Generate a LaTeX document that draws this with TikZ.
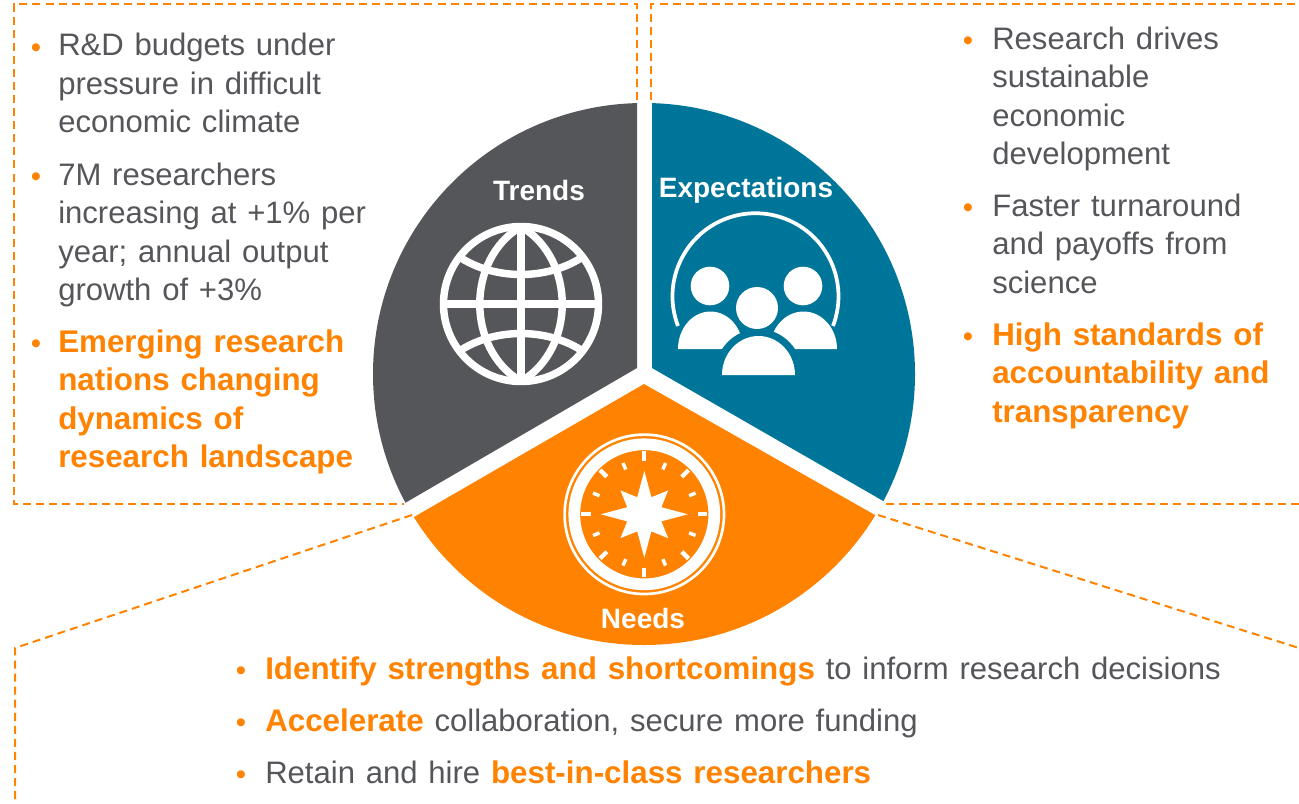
\documentclass[tikz,border=0pt]{standalone}
\usepackage{fontspec}
\setmainfont[WordSpace=1.25]{Liberation Sans}
\definecolor{og}{HTML}{FF8300}
\definecolor{gy}{HTML}{54565A}
\definecolor{tl}{HTML}{00759A}
\newcommand{\hi}[1]{\textcolor{og}{\fontsize{23.5}{28.9}\selectfont\textbf{#1}}}
\tikzset{
 x=0.75pt,y=-0.75pt,
 body/.style={anchor=north west,inner sep=0pt,align=left,text=gy,font=\fontsize{23.3}{28.9}\selectfont},
 bull/.style={anchor=center,inner sep=0pt,text=og,font=\fontsize{22}{28}\selectfont},
 head/.style={anchor=base,inner sep=0pt,text=white,font=\bfseries\fontsize{21}{24}\selectfont},
 dashline/.style={draw=og,line width=1.5pt,dash pattern=on 6pt off 3.8pt},
 ic/.style={draw=white,line width=5.6pt,line join=round}
}
\begin{document}
\begin{tikzpicture}
\useasboundingbox (0,0) rectangle (1299,803);
% wedges
\begin{scope}
\clip (644,374) circle [radius=271];
\fill[gy] (637,50) -- (637,368) -- (405,503) -- (250,593) -- (250,50) -- cycle;
\fill[tl] (652,50) -- (652,368) -- (885,502) -- (1040,591) -- (1040,50) -- cycle;
\fill[og] (644,384) -- (414,517) -- (300,583) -- (300,700) -- (990,700) -- (990,580) -- (875,515) -- cycle;
\end{scope}
% dashed frames
\coordinate (L1) at (637,100); \coordinate (L2) at (637,4); \coordinate (L3) at (14,4); \coordinate (L4) at (14,504); \coordinate (L5) at (404,504);
\draw[dashline] (L1) -- (L2) -- (L3) -- (L4) -- (L5);
\coordinate (R1) at (651,100); \coordinate (R2) at (651,4); \coordinate (R3) at (1299,4);
\draw[dashline] (R1) -- (R2) -- (R3);
\coordinate (R4) at (886,504); \coordinate (R5) at (1299,504);
\draw[dashline] (R4) -- (R5);
\coordinate (B1) at (412,515); \coordinate (B2) at (15,648); \coordinate (B3) at (15,803);
\draw[dashline] (B1) -- (B2) -- (B3);
\coordinate (B4) at (878,515); \coordinate (B5) at (1299,648);
\draw[dashline] (B4) -- (B5);
% globe icon
\begin{scope}[shift={(521,304)}]
\draw[ic] (0,0) circle [radius=77.5];
\draw[ic] (0,-77.5) .. controls (-55,-45) and (-55,45) .. (0,77.5);
\draw[ic] (0,-77.5) .. controls (55,-45) and (55,45) .. (0,77.5);
\draw[ic] (0,-77.5) -- (0,77.5);
\draw[ic] (-77.5,0) -- (77.5,0);
\draw[ic] (-60,-46) .. controls (-25,-24) and (25,-24) .. (60,-46);
\draw[ic] (-60,46) .. controls (-25,24) and (25,24) .. (60,46);
\end{scope}
% people icon
\draw[white,line width=2.8pt] (678,326) arc [start angle=159,end angle=381,radius=83];
\fill[white] (710,286) circle [radius=19.3];
\fill[white] (803,286) circle [radius=19.3];
\fill[white] (678,349) arc [start angle=180,end angle=360,x radius=32.5,y radius=37.5] -- cycle;
\fill[white] (770,349) arc [start angle=180,end angle=360,x radius=33.5,y radius=37.5] -- cycle;
\fill[tl] (714,376) arc [start angle=180,end angle=360,x radius=44.5,y radius=47] -- cycle;
\fill[white] (757,308) circle [radius=21];
\fill[white] (722,375) arc [start angle=180,end angle=360,x radius=36.5,y radius=39] -- cycle;
% compass icon
\begin{scope}[shift={(644.3,514.3)}]
\draw[white,line width=2pt] (0,0) circle [radius=79.7];
\draw[white,line width=8.8pt] (0,0) circle [radius=70];
\foreach \a in {0,90,180,270} \draw[white,line width=3.2pt] (\a:53.5) -- (\a:63);
\foreach \a in {45,135,225,315} \draw[white,line width=3.2pt] (\a:53) -- (\a:62.5);
\foreach \a in {22.5,67.5,112.5,157.5,202.5,247.5,292.5,337.5} \draw[white,line width=2.6pt] (\a:48.5) -- (\a:55.5);
\fill[white] (0:43.5) -- (22.5:18.5) -- (45:33.7) -- (67.5:18.5) -- (90:43.5) -- (112.5:18.5) -- (135:33.7) -- (157.5:18.5) -- (180:43.5) -- (202.5:18.5) -- (225:33.7) -- (247.5:18.5) -- (270:43.5) -- (292.5:18.5) -- (315:33.7) -- (337.5:18.5) -- cycle;
\end{scope}
% headings
\node[head] (trends) at (539,200) {Trends};
\node[head] (expect) at (746,197) {Expectations};
\node[head] (needs) at (643,628) {Needs};
% left text
\node[bull] (l1) at (36,51) {•};
\node[body] (lt1) at (58,28.5) {\strut R\&D budgets under\\pressure in difficult\\economic climate};
\node[bull] (l2) at (36,180) {•};
\node[body] (lt2) at (58,158) {\strut 7M researchers\\increasing at +1\% per\\year; annual output\\growth of +3\%};
\node[bull] (l3) at (36,347) {•};
\node[body] (lt3) at (58,325) {\strut\hi{Emerging research}\\\hi{nations changing}\\\hi{dynamics of}\\\hi{research landscape}};
% right text
\node[bull] (r1) at (968,44) {•};
\node[body] (rt1) at (992,22) {\strut Research drives\\sustainable\\economic\\development};
\node[bull] (r2) at (968,211) {•};
\node[body] (rt2) at (992,189) {\strut Faster turnaround\\and payoffs from\\science};
\node[bull] (r3) at (968,340) {•};
\node[body] (rt3) at (992,318) {\strut\hi{High standards of}\\\hi{accountability and}\\\hi{transparency}};
% bottom text
\node[bull] (b1) at (241,674) {•};
\node[body] (bt1) at (265,652) {\strut\hi{Identify strengths and shortcomings} to inform research decisions};
\node[bull] (b2) at (241,726) {•};
\node[body] (bt2) at (265,704) {\strut\hi{Accelerate} collaboration, secure more funding};
\node[bull] (b3) at (241,778) {•};
\node[body] (bt3) at (265,756) {\strut Retain and hire \hi{best-in-class researchers}};
\end{tikzpicture}
\end{document}
